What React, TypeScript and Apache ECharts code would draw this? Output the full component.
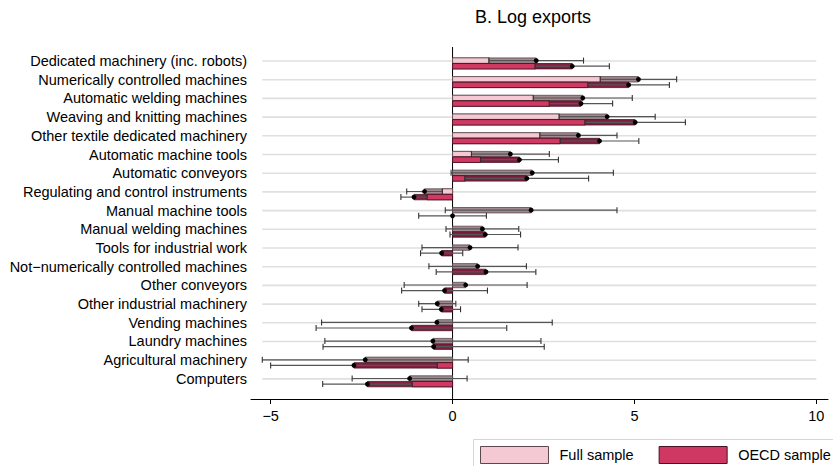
import React, { useEffect, useRef } from "react";
import * as echarts from "echarts";

const categories = [
  "Dedicated machinery (inc. robots)",
  "Numerically controlled machines",
  "Automatic welding machines",
  "Weaving and knitting machines",
  "Other textile dedicated machinery",
  "Automatic machine tools",
  "Automatic conveyors",
  "Regulating and control instruments",
  "Manual machine tools",
  "Manual welding machines",
  "Tools for industrial work",
  "Not\u2212numerically controlled machines",
  "Other conveyors",
  "Other industrial machinery",
  "Vending machines",
  "Laundry machines",
  "Agricultural machinery",
  "Computers",
];

// point estimates and half-width of confidence intervals
const fullEst = [2.3, 5.11, 3.58, 4.25, 3.46, 1.59, 2.19, -0.77, 2.16, 0.82, 0.48, 0.69, 0.36, -0.42, -0.43, -0.54, -2.4, -1.18];
const fullCI = [1.3, 1.05, 1.36, 1.32, 1.06, 1.07, 2.23, 0.49, 2.36, 1.0, 1.32, 1.34, 1.69, 0.51, 3.17, 2.97, 2.83, 1.58];
const oecdEst = [3.29, 4.84, 3.53, 5.02, 4.04, 1.84, 2.04, -1.06, 0.0, 0.9, -0.3, 0.92, -0.22, -0.31, -1.13, -0.52, -2.71, -2.34];
const oecdCI = [1.02, 1.12, 0.87, 1.38, 1.08, 1.07, 1.7, 0.36, 0.93, 0.97, 0.58, 1.37, 1.18, 0.53, 2.62, 3.04, 2.29, 1.23];

const xTicks = [-5, 0, 5, 10];
const gridLineRange = [-5.23, 10];

const FONT = "'Liberation Sans', Arial, Helvetica, sans-serif";

const fmt = (v: number) => (v < 0 ? "\u2212" + Math.abs(v) : String(v));

function makeRender(offset: number, c: { light: string; dark: string; border: string }) {
  return (params: any, api: any) => {
    const i = api.value(0);
    const b = api.value(1);
    const hw = api.value(2);
    const lo = b - hw;
    const hi = b + hw;
    const a = lo > 0 ? lo : hi < 0 ? hi : 0;
    const p0 = api.coord([0, i]);
    const cy = p0[1] + offset;
    const h = 5.4;
    const x0 = p0[0];
    const xA = api.coord([a, i])[0];
    const xB = api.coord([b, i])[0];
    const xLo = api.coord([lo, i])[0];
    const xHi = api.coord([hi, i])[0];
    const children: any[] = [
      {
        type: "rect",
        shape: { x: Math.min(x0, xB), y: cy - h / 2, width: Math.abs(xB - x0), height: h },
        style: { fill: c.dark, stroke: c.border, lineWidth: 0.8 },
      },
    ];
    if (Math.abs(xA - x0) > 0.5) {
      children.push({
        type: "rect",
        shape: { x: Math.min(x0, xA), y: cy - h / 2, width: Math.abs(xA - x0), height: h },
        style: { fill: c.light, stroke: c.border, lineWidth: 0.8 },
      });
    }
    children.push(
      {
        type: "line",
        shape: { x1: xLo, y1: cy, x2: xHi, y2: cy },
        style: { stroke: "#555", lineWidth: 1.2 },
      },
      {
        type: "line",
        shape: { x1: xLo, y1: cy - 3, x2: xLo, y2: cy + 3 },
        style: { stroke: "#333", lineWidth: 1.1 },
      },
      {
        type: "line",
        shape: { x1: xHi, y1: cy - 3, x2: xHi, y2: cy + 3 },
        style: { stroke: "#333", lineWidth: 1.1 },
      },
      {
        type: "circle",
        shape: { cx: xB, cy, r: 2.4 },
        style: { fill: "#000" },
      }
    );
    return { type: "group", children };
  };
}

const Y_MIN = -0.749;
const Y_MAX = 18.075;

export default function App() {
  const ref = useRef<HTMLDivElement>(null);
  useEffect(() => {
    if (!ref.current) return;
    const chart = echarts.init(ref.current, null, { renderer: "svg" });
    const fullColors = { light: "#f5c9d4", dark: "#a08a8f", border: "#5c474c" };
    const oecdColors = { light: "#d03a62", dark: "#821f41", border: "#4a1024" };
    chart.setOption({
      animation: false,
      backgroundColor: "#fff",
      textStyle: { fontFamily: FONT },
      title: {
        text: "B. Log exports",
        left: 470,
        top: 3,
        textStyle: { fontFamily: FONT, fontSize: 18, fontWeight: "normal", color: "#000" },
      },
      grid: { left: 251, right: 5, top: 47, bottom: 67, outerBoundsMode: "none" },
      graphic: [
        {
          type: "rect",
          silent: true,
          z: 0,
          shape: { x: 473.5, y: 439.5, width: 420, height: 60 },
          style: { fill: "none", stroke: "#d6d6d6", lineWidth: 1 },
        },
      ],
      legend: {
        left: 473,
        top: 439,
        padding: [7, 0, 5, 7],
        itemWidth: 68,
        itemHeight: 17,
        itemGap: 25,
        icon: "rect",
        orient: "horizontal",
        textStyle: { fontFamily: FONT, fontSize: 14.5, color: "#000", padding: [0, 0, 0, 6] },
        data: [
          { name: "Full sample", itemStyle: { color: fullColors.light, borderColor: "#5c474c", borderWidth: 1 } },
          { name: "OECD sample", itemStyle: { color: "#cf3862", borderColor: "#4a1024", borderWidth: 1 } },
        ],
      },
      xAxis: {
        type: "value",
        min: -5.54,
        max: 10.32,
        splitLine: { show: false },
        axisLine: { show: true, onZero: false, lineStyle: { color: "#000", width: 1 } },
        axisTick: { show: true, length: 5, customValues: xTicks, lineStyle: { color: "#000" } },
        axisLabel: {
          customValues: xTicks,
          formatter: (v: number) => fmt(v),
          fontSize: 14.5,
          color: "#000",
          margin: 9,
          fontFamily: FONT,
        },
      },
      yAxis: {
        type: "value",
        inverse: true,
        min: Y_MIN,
        max: Y_MAX,
        splitLine: { show: false },
        axisLine: { show: false },
        axisTick: { show: false },
        axisLabel: {
          customValues: categories.map((_, i) => i),
          formatter: (v: number) => categories[Math.round(v)] ?? "",
          fontSize: 14.5,
          color: "#000",
          margin: 4,
          fontFamily: FONT,
        },
      },
      series: [
        {
          type: "custom",
          name: "grid",
          silent: true,
          z: 1,
          data: categories.map((_, i) => [i]),
          renderItem: (params: any, api: any) => {
            const i = api.value(0);
            const p1 = api.coord([gridLineRange[0], i]);
            const p2 = api.coord([gridLineRange[1], i]);
            return {
              type: "line",
              shape: { x1: p1[0], y1: p1[1], x2: p2[0], y2: p2[1] },
              style: { stroke: "#dfdfdf", lineWidth: 1.6 },
            };
          },
        },
        {
          type: "line",
          name: "zero",
          silent: true,
          z: 2,
          data: [
            [0, Y_MIN],
            [0, Y_MAX],
          ],
          symbol: "none",
          lineStyle: { color: "#000", width: 1 },
        },
        {
          type: "custom",
          name: "Full sample",
          z: 3,
          itemStyle: { color: fullColors.light },
          data: categories.map((_, i) => [i, fullEst[i], fullCI[i]]),
          renderItem: makeRender(-0.4, fullColors),
        },
        {
          type: "custom",
          name: "OECD sample",
          z: 3,
          itemStyle: { color: oecdColors.light },
          data: categories.map((_, i) => [i, oecdEst[i], oecdCI[i]]),
          renderItem: makeRender(5.2, oecdColors),
        },
      ],
    });
    return () => chart.dispose();
  }, []);
  return (
    <div
      ref={ref}
      style={{ position: "fixed", left: 0, top: 0, width: 833, height: 466, background: "#fff" }}
    />
  );
}
